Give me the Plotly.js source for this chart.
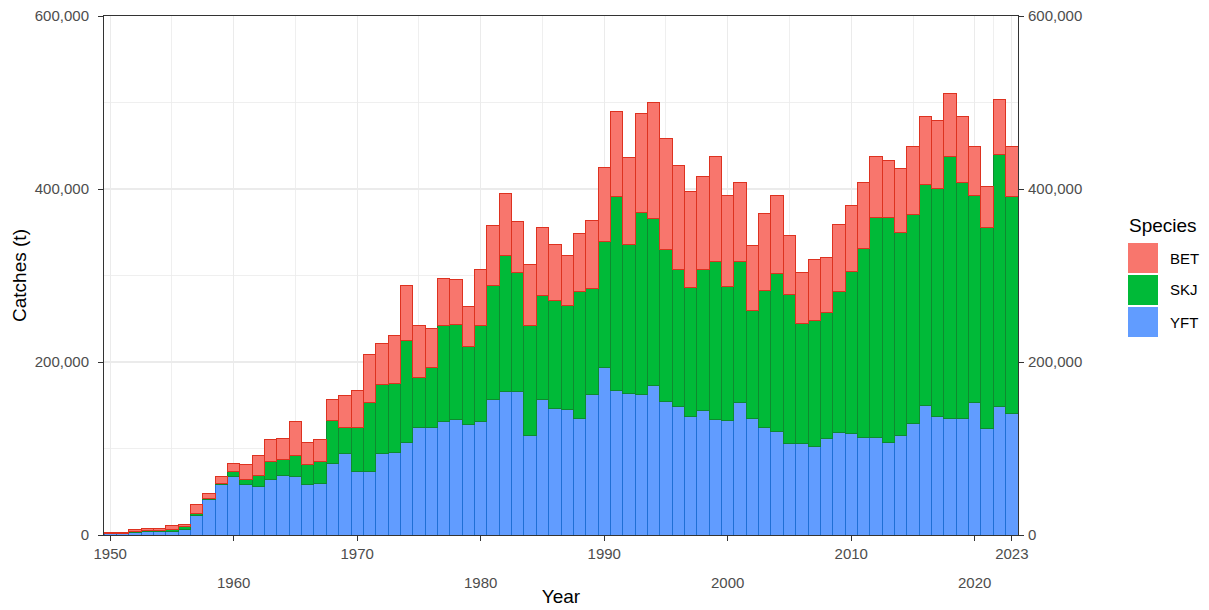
<!DOCTYPE html>
<html><head><meta charset="utf-8">
<script src="https://cdn.plot.ly/plotly-3.0.1.min.js"></script>
<style>html,body{margin:0;padding:0;background:#fff}#chart{width:1209px;height:610px}</style>
</head><body><div id="chart"></div>
<script>
// ---- data (tonnes) ----
const years = [1950,1951,1952,1953,1954,1955,1956,1957,1958,1959,
  1960,1961,1962,1963,1964,1965,1966,1967,1968,1969,
  1970,1971,1972,1973,1974,1975,1976,1977,1978,1979,
  1980,1981,1982,1983,1984,1985,1986,1987,1988,1989,
  1990,1991,1992,1993,1994,1995,1996,1997,1998,1999,
  2000,2001,2002,2003,2004,2005,2006,2007,2008,2009,
  2010,2011,2012,2013,2014,2015,2016,2017,2018,2019,
  2020,2021,2022,2023];
const yft = [1500,1500,3000,3500,4000,4600,5800,22800,40500,57900,
  67500,57900,56000,64500,68700,67500,58300,59800,83000,94600,
  73300,73300,94600,95800,106900,124700,124700,130800,133900,127800,
  130800,156300,165600,165600,115000,156300,146700,144700,135100,162900,
  194200,167100,164000,162900,172500,154400,148600,137000,143600,134000,
  132000,153200,135100,124200,119600,105400,105400,102300,112000,118500,
  117000,113100,113100,107300,114600,129300,149700,137000,135100,135100,
  153200,123100,148600,140900];
const skj = [300,500,1500,2000,1500,1400,3500,1500,2000,1900,
  5500,6600,12700,20400,19100,24000,23600,25100,49400,30100,
  51400,79900,79100,79900,117400,57100,69500,111200,109300,90200,
  111200,132700,157400,137800,127000,120500,123900,120800,146600,121600,
  145400,224500,171500,210100,193100,175600,158300,149000,163300,182100,
  155500,162900,124300,158700,182300,172900,139300,145900,145600,163200,
  187900,217700,254300,260100,234800,240800,255200,263200,303000,272900,
  239400,232800,291200,250000];
const bet = [1200,1000,2100,2200,2200,4800,3100,10400,5000,7700,
  9600,17500,23100,25500,24200,39300,25000,25100,23900,36300,
  42300,55600,47300,55100,64700,60200,44300,54800,52100,45700,
  64900,68400,72200,58600,71000,79100,64900,57200,66500,79000,
  85600,98400,100500,114500,134400,128600,119900,110800,107300,121600,
  104700,91500,75600,88500,90300,67900,58700,70600,63000,77300,
  76100,77200,70700,66100,74400,79400,78700,79100,72500,75600,
  56300,47500,63200,58000];
const species = ['YFT','SKJ','BET'];
const legendOrder = ['BET','SKJ','YFT'];
const legendTitle = 'Species';
const xTickVals = [1950,1960,1970,1980,1990,2000,2010,2020,2023];
const xTickText = ['1950','1960','1970','1980','1990','2000','2010','2020','2023'];
const xMinorVals = [1955,1965,1975,1985,1995,2005,2015,2021.5];
const yTickVals = [0,200000,400000,600000];
const yTickText = ['0','200,000','400,000','600,000'];
const xTitle = 'Year';
const yTitle = 'Catches (t)';

// ---- styles ----
const fills = {YFT:'#619CFF', SKJ:'#00BA38', BET:'#F8766D'};
const edges = {YFT:'#1F6FD6', SKJ:'#0E8A2F', BET:'#DD3220'};
const FONT = 'Liberation Sans, Arial, sans-serif';
const M = {l:104, r:191, t:16, b:75};
const W = 1209, H = 610;
const PW = W - M.l - M.r, PH = H - M.t - M.b;
const px2x = p => (p - M.l) / PW;
const py2y = p => (H - M.b - p) / PH;

const seriesData = {YFT: yft, SKJ: skj, BET: bet};
const traces = species.map(s => ({
  type:'bar', name:s, x:years, y:seriesData[s],
  marker:{color:fills[s], line:{color:edges[s], width:1}},
  hoverinfo:'x+y+name'
}));
// empty trace so the secondary (right) axis is drawn
traces.push({type:'scatter', mode:'markers', x:[], y:[], yaxis:'y2', showlegend:false, hoverinfo:'skip'});

const annotations = [];
// staggered lower-row x labels
xTickVals.forEach((v,i) => {
  if (i % 2 === 1) {
    annotations.push({xref:'x', yref:'paper', x:v, y:py2y(582), text:xTickText[i],
      showarrow:false, xanchor:'center', yanchor:'middle',
      font:{family:FONT, size:15, color:'#4D4D4D'}});
  }
});
// legend
const shapes = [];
annotations.push({xref:'paper', yref:'paper', x:px2x(1127), y:py2y(225), text:legendTitle,
  showarrow:false, xanchor:'left', yanchor:'middle', font:{family:FONT, size:19, color:'#000'}});
legendOrder.forEach((s,i) => {
  const top = 243 + i*32, bot = top + 30;
  shapes.push({type:'rect', xref:'paper', yref:'paper', x0:px2x(1128), x1:px2x(1158),
    y0:py2y(bot), y1:py2y(top), fillcolor:fills[s], line:{width:0}});
  annotations.push({xref:'paper', yref:'paper', x:px2x(1168), y:py2y((top+bot)/2), text:s,
    showarrow:false, xanchor:'left', yanchor:'middle', font:{family:FONT, size:15, color:'#000'}});
});

const layout = {
  width:W, height:H, margin:M, barmode:'stack', bargap:0,
  paper_bgcolor:'#fff', plot_bgcolor:'#fff', showlegend:false,
  font:{family:FONT},
  xaxis:{range:[1949.5,2023.5], tickmode:'array', tickvals:xTickVals,
    ticktext:xTickText.map((t,i)=> i%2===0 ? t : ''),
    ticks:'outside', ticklen:5, tickcolor:'#333', tickwidth:1,
    tickfont:{family:FONT, size:15, color:'#4D4D4D'},
    showgrid:true, gridcolor:'#EBEBEB', gridwidth:1.2,
    minor:{tickmode:'array', tickvals:xMinorVals, showgrid:true, gridcolor:'#EBEBEB', gridwidth:0.8, ticks:''},
    showline:true, linecolor:'#333', linewidth:1, mirror:true, zeroline:false,
    title:{text:xTitle, font:{family:FONT, size:19, color:'#000'}, standoff:28},
    automargin:false},
  yaxis:{range:[0,600000], tickmode:'array', tickvals:yTickVals, ticktext:yTickText,
    ticks:'outside', ticklen:5, tickcolor:'#333', tickwidth:1, ticklabelstandoff:6,
    tickfont:{family:FONT, size:15, color:'#4D4D4D'},
    showgrid:true, gridcolor:'#EBEBEB', gridwidth:1.2,
    minor:{tick0:0, dtick:100000, showgrid:true, gridcolor:'#EBEBEB', gridwidth:0.8, ticks:''},
    showline:true, linecolor:'#333', linewidth:1, zeroline:false,
    title:{text:yTitle, font:{family:FONT, size:19, color:'#000'}, standoff:3},
    automargin:false},
  yaxis2:{range:[0,600000], overlaying:'y', side:'right', tickmode:'array',
    tickvals:yTickVals, ticktext:yTickText, ticks:'outside', ticklen:5, tickcolor:'#333', tickwidth:1,
    tickfont:{family:FONT, size:15, color:'#4D4D4D'}, ticklabelstandoff:1,
    showgrid:false, zeroline:false, showline:true, linecolor:'#333', linewidth:1,
    automargin:false},
  shapes:shapes, annotations:annotations
};
Plotly.newPlot('chart', traces, layout, {displayModeBar:false, staticPlot:true});
</script></body></html>
